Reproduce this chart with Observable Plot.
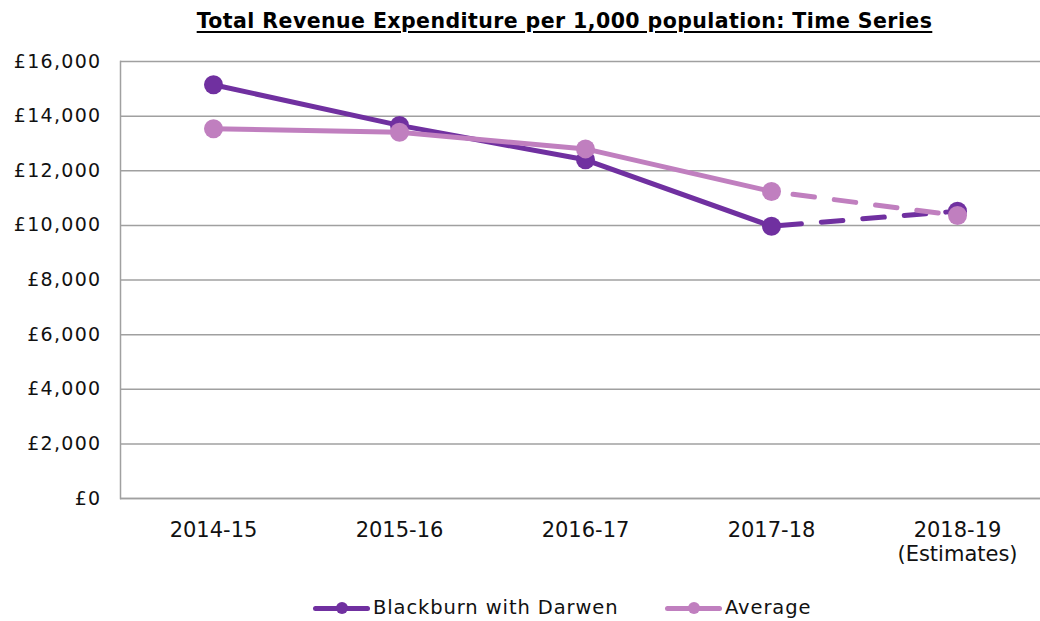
<!DOCTYPE html>
<html><head><meta charset="utf-8">
<script src="https://cdn.jsdelivr.net/npm/d3@7"></script>
<script src="https://cdn.jsdelivr.net/npm/@observablehq/plot@0.6"></script>
<style>
body{margin:0;background:#fff;font-family:"DejaVu Sans",Verdana,sans-serif;}
#wrap{position:relative;width:1040px;height:621px;overflow:hidden;background:#fff;}
#title{position:absolute;left:0;top:8.5px;width:1129px;text-align:center;font-weight:bold;font-size:20.5px;letter-spacing:0.42px;line-height:24px;color:#000;text-decoration:underline;text-decoration-thickness:2px;text-underline-offset:3px;white-space:nowrap;}
#chart{position:absolute;left:0;top:42px;}
.leg{position:absolute;top:596px;height:24px;display:flex;align-items:center;font-size:19.5px;line-height:24px;letter-spacing:0.9px;color:#111;white-space:nowrap;}
.sw{position:relative;width:57px;height:24px;margin-right:3px;}
.sw .ln{position:absolute;left:0;top:9.5px;width:57px;height:5px;border-radius:2.5px;}
.sw .dt{position:absolute;left:22.5px;top:6px;width:12px;height:12px;border-radius:6px;}
</style>
</head><body>
<div id="wrap">
  <div id="title">Total Revenue Expenditure per 1,000 population: Time Series</div>
  <div id="chart"></div>
  <div id="legend"></div>
</div>
<script>
const years = ["2014-15", "2015-16", "2016-17", "2017-18", "2018-19\n(Estimates)"];
const blackburn = [15150, 13660, 12400, 9970, 10520];
const average = [13540, 13410, 12800, 11240, 10360];
const seriesNames = ["Blackburn with Darwen", "Average"];
const seriesColors = ["#7030a0", "#c07fbf"];
const yTicks = [0, 2000, 4000, 6000, 8000, 10000, 12000, 14000, 16000];
const lastActual = 3; // index of last actual year; after it values are estimates

const rows = (vals) => years.map((year, i) => ({year, i, value: vals[i]}));
const bRows = rows(blackburn);
const aRows = rows(average);

function seriesMarks(data, color, dashOffset) {
  return [
    Plot.line(data.filter(d => d.i <= lastActual), {x: "year", y: "value", stroke: color, strokeWidth: 5, strokeLinejoin: "round", strokeLinecap: "round"}),
    Plot.line(data.filter(d => d.i >= lastActual), {x: "year", y: "value", stroke: color, strokeWidth: 5, strokeDasharray: "21.6,20", strokeDashoffset: dashOffset}),
    Plot.dot(data, {x: "year", y: "value", r: 9.5, fill: color, stroke: "none"})
  ];
}

const fmt = d3.format(",");
const grid = "#a0a0a0";
const plot = Plot.plot({
  width: 1040,
  height: 540,
  marginTop: 19,
  marginBottom: 84,
  marginLeft: 120,
  marginRight: 0,
  style: {fontFamily: '"DejaVu Sans", Verdana, sans-serif', color: "#111", background: "#fff"},
  x: {type: "point", domain: years, range: [212.7, 958.3], padding: 0},
  y: {domain: [0, 16000]},
  marks: [
    Plot.gridY(yTicks, {stroke: grid, strokeOpacity: 1, strokeWidth: 1.5}),
    Plot.ruleY([0], {stroke: grid, strokeWidth: 1.5}),
    Plot.frame({anchor: "left", stroke: grid, strokeWidth: 1.5}),
    Plot.axisY(yTicks, {tickSize: 0, tickPadding: 19, fontSize: 19, tickFormat: d => "£" + fmt(d), label: null, fill: "#111"}),
    Plot.axisX({tickSize: 0, tickPadding: 21, fontSize: 21, lineHeight: 24 / 21, lineAnchor: "top", label: null, fill: "#111"}),
    ...seriesMarks(bRows, seriesColors[0], 33.2),
    ...seriesMarks(aRows, seriesColors[1], 19.9)
  ]
});
plot.querySelectorAll('[aria-label="y-axis tick label"] text').forEach(t => t.setAttribute("letter-spacing", "1.3"));
document.getElementById("chart").appendChild(plot);

const legend = document.getElementById("legend");
const legLeft = [313, 665];
seriesNames.forEach((name, k) => {
  const item = document.createElement("div");
  item.className = "leg";
  item.style.left = legLeft[k] + "px";
  item.innerHTML = `<div class="sw"><div class="ln" style="background:${seriesColors[k]}"></div><div class="dt" style="background:${seriesColors[k]}"></div></div><span>${name}</span>`;
  legend.appendChild(item);
});
</script>
</body></html>
